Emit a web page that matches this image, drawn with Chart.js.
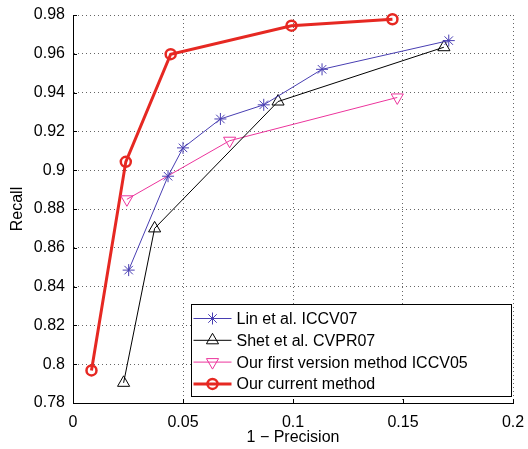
<!DOCTYPE html>
<html>
<head>
<meta charset="utf-8">
<script src="https://cdn.jsdelivr.net/npm/chart.js@4/dist/chart.umd.min.js"></script>
<style>
  body { margin: 0; background: #fff; }
  #wrap { width: 528px; height: 449px; }
</style>
</head>
<body>
<div id="wrap"><canvas id="pr" width="528" height="449"></canvas></div>
<script>
// datos (1 - precision, recall)
const seriesNames = [
  "Lin et al. ICCV07",
  "Shet et al. CVPR07",
  "Our first version method ICCV05",
  "Our current method"
];
const linX = [0.0253, 0.0432, 0.0500, 0.0670, 0.0867, 0.1132, 0.1708];
const linY = [0.8485, 0.8969, 0.9115, 0.9264, 0.9337, 0.9520, 0.9668];
const shetX = [0.0230, 0.0371, 0.0932, 0.1686];
const shetY = [0.7904, 0.8700, 0.9354, 0.9634];
const firstX = [0.0245, 0.0712, 0.1474];
const firstY = [0.8850, 0.9152, 0.9375];
const currentX = [0.0084, 0.0240, 0.0444, 0.0993, 0.1452];
const currentY = [0.7968, 0.9043, 0.9598, 0.9745, 0.9778];

const xTicks = [0, 0.05, 0.1, 0.15, 0.2];
const yTicks = [0.78, 0.8, 0.82, 0.84, 0.86, 0.88, 0.9, 0.92, 0.94, 0.96, 0.98];

const FONT = "'Liberation Sans', Arial, Helvetica, sans-serif";

function pts(xs, ys) {
  return xs.map((x, i) => ({ x: x, y: ys[i] }));
}

const datasets = [
  {
    label: seriesNames[0],
    data: pts(linX, linY),
    borderColor: "rgb(72,62,178)",
    borderWidth: 1,
    pointStyle: "star",
    pointRadius: 6,
    pointBorderWidth: 1,
    pointBorderColor: "rgb(72,62,178)",
    pointBackgroundColor: "rgba(0,0,0,0)"
  },
  {
    label: seriesNames[1],
    data: pts(shetX, shetY),
    borderColor: "#000",
    borderWidth: 1,
    pointStyle: "triangle",
    pointRadius: 7,
    pointBorderWidth: 1,
    pointBorderColor: "#000",
    pointBackgroundColor: "rgba(0,0,0,0)"
  },
  {
    label: seriesNames[2],
    data: pts(firstX, firstY),
    borderColor: "rgb(236,52,156)",
    borderWidth: 1,
    pointStyle: "triangle",
    rotation: 180,
    pointRotation: 180,
    pointRadius: 7,
    pointBorderWidth: 1,
    pointBorderColor: "rgb(236,52,156)",
    pointBackgroundColor: "rgba(0,0,0,0)"
  },
  {
    label: seriesNames[3],
    data: pts(currentX, currentY),
    borderColor: "rgb(230,40,34)",
    borderWidth: 3,
    pointStyle: "circle",
    pointRadius: 5,
    pointBorderWidth: 2.5,
    pointBorderColor: "rgb(230,40,34)",
    pointBackgroundColor: "rgba(0,0,0,0)"
  }
];

// marcador simple para la leyenda
function drawMarker(ctx, ds, x, y) {
  const r = ds.pointRadius;
  ctx.save();
  ctx.strokeStyle = ds.pointBorderColor;
  ctx.lineWidth = ds.pointBorderWidth;
  ctx.beginPath();
  if (ds.pointStyle === "star") {
    for (let k = 0; k < 4; k++) {
      const a = k * Math.PI / 4;
      ctx.moveTo(x - Math.cos(a) * r, y - Math.sin(a) * r);
      ctx.lineTo(x + Math.cos(a) * r, y + Math.sin(a) * r);
    }
  } else if (ds.pointStyle === "triangle") {
    let a = (ds.pointRotation || 0) * Math.PI / 180;
    for (let k = 0; k < 3; k++) {
      const px = x + Math.sin(a) * r;
      const py = y - Math.cos(a) * r;
      if (k === 0) ctx.moveTo(px, py); else ctx.lineTo(px, py);
      a += 2 * Math.PI / 3;
    }
    ctx.closePath();
  } else {
    ctx.arc(x, y, r, 0, Math.PI * 2);
  }
  ctx.stroke();
  ctx.restore();
}

const matlabBits = {
  id: "matlabBits",
  afterDatasetsDraw(chart) {
    const ctx = chart.ctx;
    const area = chart.chartArea;
    const xs = chart.scales.x;
    const ys = chart.scales.y;

    // ticks hacia adentro
    ctx.save();
    ctx.strokeStyle = "#000";
    ctx.lineWidth = 1;
    ctx.beginPath();
    yTicks.forEach(v => {
      const py = Math.round(ys.getPixelForValue(v)) + 0.5;
      ctx.moveTo(area.left, py);
      ctx.lineTo(area.left + 4, py);
    });
    xTicks.forEach(v => {
      const px = Math.round(xs.getPixelForValue(v)) + 0.5;
      ctx.moveTo(px, area.bottom);
      ctx.lineTo(px, area.bottom - 4);
    });
    ctx.stroke();
    ctx.restore();

    // leyenda dentro del grafico
    const w = 320, h = 92;
    const bx = Math.round(area.right - 2 - w) + 0.5;
    const by = Math.round(area.bottom - 7 - h) + 0.5;
    ctx.save();
    ctx.fillStyle = "#fff";
    ctx.fillRect(bx, by, w, h);
    ctx.strokeStyle = "#000";
    ctx.lineWidth = 1;
    ctx.strokeRect(bx, by, w, h);
    ctx.font = "16px " + FONT;
    ctx.textBaseline = "middle";
    ctx.fillStyle = "#000";
    datasets.forEach((ds, i) => {
      const rowY = by + 14 + i * 21.8;
      ctx.strokeStyle = ds.borderColor;
      ctx.lineWidth = ds.borderWidth;
      ctx.beginPath();
      ctx.moveTo(bx + 2, rowY);
      ctx.lineTo(bx + 40, rowY);
      ctx.stroke();
      drawMarker(ctx, ds, bx + 21, rowY);
      ctx.fillStyle = "#000";
      ctx.fillText(ds.label, bx + 45, rowY + 1);
    });
    ctx.restore();
  }
};

new Chart(document.getElementById("pr"), {
  type: "scatter",
  data: { datasets: datasets.map(d => Object.assign({ showLine: true, fill: false, tension: 0, clip: false }, d)) },
  plugins: [matlabBits],
  options: {
    responsive: false,
    devicePixelRatio: 1,
    animation: false,
    layout: { padding: { left: 0, top: 15, right: 15, bottom: 0 } },
    plugins: {
      legend: { display: false },
      tooltip: { enabled: false }
    },
    scales: {
      x: {
        type: "linear",
        min: 0,
        max: 0.2,
        afterFit: s => { s.height = 46; s.paddingLeft = 0; s.paddingRight = 0; },
        afterBuildTicks: s => { s.ticks = xTicks.map(v => ({ value: v })); },
        ticks: {
          padding: 10,
          color: "#000",
          font: { family: FONT, size: 16 },
          callback: v => String(+v.toFixed(2))
        },
        grid: { color: "rgba(0,0,0,0.6)", drawTicks: false, lineWidth: 1 },
        border: { display: true, color: "#000", width: 1, dash: [1, 3] },
        title: {
          display: true,
          text: "1 \u2212 Precision",
          color: "#000",
          font: { family: FONT, size: 16 },
          padding: { top: 0, bottom: 2 }
        }
      },
      y: {
        type: "linear",
        min: 0.78,
        max: 0.98,
        afterFit: s => { s.width = 73; s.paddingTop = 0; s.paddingBottom = 0; },
        afterBuildTicks: s => { s.ticks = yTicks.map(v => ({ value: v })); },
        ticks: {
          padding: 8,
          color: "#000",
          font: { family: FONT, size: 16 },
          callback: v => String(+v.toFixed(2))
        },
        grid: { color: "rgba(0,0,0,0.6)", drawTicks: false, lineWidth: 1 },
        border: { display: true, color: "#000", width: 1, dash: [1, 3] },
        title: {
          display: true,
          text: "Recall",
          color: "#000",
          font: { family: FONT, size: 16 },
          padding: { top: 8, bottom: 0 }
        }
      }
    }
  }
});
</script>
</body>
</html>
